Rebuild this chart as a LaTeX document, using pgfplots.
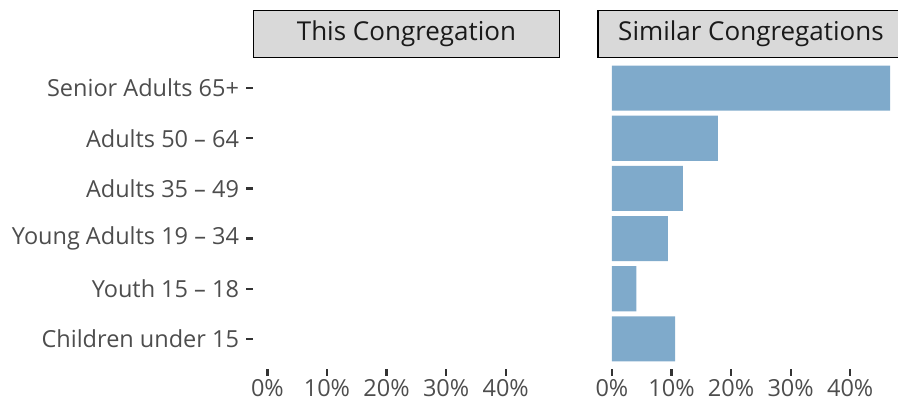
\documentclass[border=0pt]{standalone}
\usepackage{pgfplots}
\pgfplotsset{compat=1.18}
\usepackage{pgfplotstable}
\usepackage{fontspec}
\setmainfont{Open Sans}
\definecolor{barblue}{RGB}{127,170,203}
\definecolor{stripgray}{RGB}{217,217,217}
\definecolor{txtgray}{RGB}{77,77,77}
\definecolor{tickgray}{RGB}{51,51,51}
\definecolor{striptxt}{RGB}{26,26,26}

\pgfplotstableread{
pos value
1 10.6
2 4.1
3 9.4
4 11.9
5 17.8
6 46.7
}\similar

\pgfplotsset{
  panel/.style={
    scale only axis,
    width=306pt, height=311pt,
    anchor=south west,
    xmin=-2.335, xmax=49.035,
    ymin=0.4, ymax=6.6,
    axis line style={draw=none},
    tick align=outside,
    major tick length=7pt,
    tick style={line width=2.2pt, color=tickgray},
    xtick={0,10,20,30,40},
    xticklabels={0\%,10\%,20\%,30\%,40\%},
    xtick pos=bottom,
    ytick pos=left,
    tick label style={font=\fontsize{23.5}{28}\selectfont, text=txtgray},
    yticklabel style={xshift=-4pt},
    /pgf/number format/assume math mode=true,
    title style={at={(0.5,1)}, anchor=south, yshift=-6pt,
      fill=stripgray, draw=black, line width=1.4pt,
      minimum width=306pt, minimum height=47pt, inner sep=0pt,
      font=\fontsize{26}{30}\selectfont, text=striptxt},
    clip=false,
  }
}

\begin{document}
\begin{tikzpicture}
\useasboundingbox (0,0) rectangle (898pt,401pt);
\begin{axis}[panel, at={(253.5pt,32pt)},
  title={This Congregation},
  ytick={1,2,3,4,5,6},
  yticklabels={Children under 15, Youth 15 -- 18, Young Adults 19 -- 34, Adults 35 -- 49, Adults 50 -- 64, Senior Adults 65+},
]
\addplot[draw=none, forget plot] coordinates {(0,1)};
\end{axis}
\begin{axis}[panel, at={(598pt,32pt)},
  title={Similar Congregations},
  ytick=\empty,
]
\addplot[xbar, bar width=0.9, bar shift=0pt, fill=barblue, draw=none] table[x=value, y=pos] {\similar};
\end{axis}
\end{tikzpicture}
\end{document}
